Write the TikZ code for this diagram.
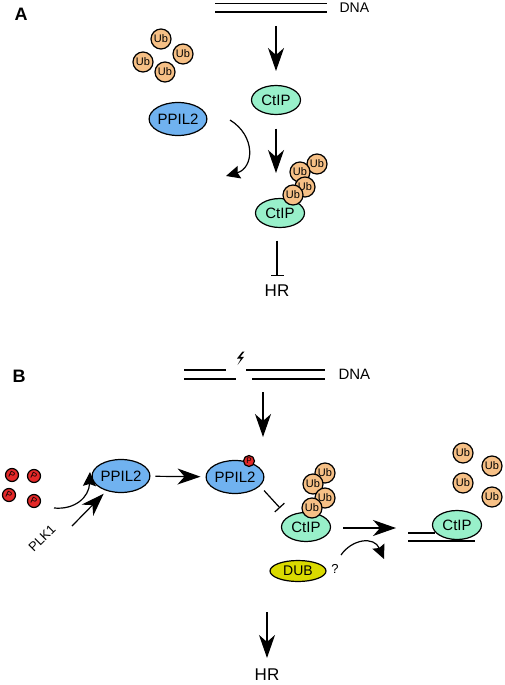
\documentclass[tikz,border=0pt]{standalone}
\usepackage{fontspec}
\setmainfont{Liberation Sans}
\usetikzlibrary{shapes.geometric,arrows.meta}

\definecolor{ctipgreen}{RGB}{152,240,202}
\definecolor{ppilblue}{RGB}{112,178,240}
\definecolor{uborange}{RGB}{246,192,134}
\definecolor{dubyellow}{RGB}{218,218,0}
\definecolor{phosred}{RGB}{228,40,40}

\tikzset{
    protein/.style={
        ellipse, 
        draw=black, 
        line width=1.2pt, 
        inner sep=0pt,
        minimum width=49pt, 
        minimum height=29pt,
        font=\fontsize{15}{15}\selectfont},
    ctip/.style={
        protein, 
        fill=ctipgreen},
    ppil/.style={
        protein, 
        fill=ppilblue, 
        minimum height=33pt},
    dub/.style={
        protein, 
        fill=dubyellow, 
        minimum width=56pt, 
        minimum height=21pt,
        font=\fontsize{14}{14}\selectfont},
    ubiquitin/.style={
        circle, 
        draw=black, 
        fill=uborange, 
        line width=1.2pt,
        minimum size=20pt, 
        inner sep=0pt,
        font=\fontsize{11}{11}\selectfont},
    phospho/.style={
        circle, 
        draw=black, 
        fill=phosred, 
        line width=1.2pt,
        minimum size=13pt, 
        inner sep=0pt,
        font=\fontsize{9}{9}\selectfont},
    activation/.style={
        -{Stealth[length=23pt, width=16pt, inset=7pt]}, 
        line width=1.2pt},
    catalysis/.style={
        -{Stealth[length=14pt, width=13pt, inset=2pt]}, 
        line width=1.2pt},
    inhibition/.style={
        -{Bar[width=13pt, line width=1.2pt]}, 
        line width=1.2pt},
    strand/.style={
        line width=1.2pt},
    panel/.style={
        font=\fontsize{18}{18}\selectfont\bfseries},
    outcome/.style={
        inner sep=0pt,
        font=\fontsize{17}{17}\selectfont}
}

\begin{document}
\begin{tikzpicture}[x=1pt, y=-1pt]
\useasboundingbox (0,0) rectangle (505,685);

% panel A
\node [panel] (panelA) at (21,14) {A};

\draw [strand] (215,3.7) -- (327,3.7) (215,12) -- (327,12);
\coordinate (dnaA) at (276,12);
\node [anchor=west, font=\fontsize{14}{14}\selectfont] (dnaA-text) at (336,7.5) {DNA};

\foreach \x/\y [count=\n] in {161/39, 183/54, 143/62, 165/72}{
    \node [ubiquitin] (ubA-\n) at (\x,\y) {Ub};
}

\node [ctip] (ctipA) at (276,100) {CtIP};
\node [ppil] (ppilA) at (178,119) {PPIL2};
\node [ctip] (ctipA-ub) at (280,213) {CtIP};

\foreach \x/\y [count=\n] in {317/164, 300/172, 305/187, 293/195}{
    \node [ubiquitin] (ubchainA-\n) at (\x,\y) {Ub};
}

\node [outcome] (hrA) at (277,291) {HR};

\coordinate (dnaA-end) at (276,71);
\coordinate (arrowA-end) at (276,173);
\coordinate (bendA-start) at (230,120);
\coordinate (bendA-end) at (226,176);

\draw [activation, shorten <=14pt] (dnaA) -- (dnaA-end);
\draw [activation, shorten <=13.5pt] (ctipA) -- (arrowA-end);
\draw [catalysis] (bendA-start) .. controls (256,136) and (254,168) .. (bendA-end);
\draw [inhibition, shorten <=12.5pt, shorten >=9pt] (ctipA-ub.south -| hrA) -- (hrA.north);

% panel B
\node [panel] (panelB) at (19,376) {B};

\draw [strand] (184,370) -- (226,370) (184,379) -- (236,379)
               (246,370) -- (325,370) (252,379) -- (325,379);
\fill (242.5,351.5) -- (237,358.5) -- (241,358.5) -- (237.5,365) -- (244,356.8) -- (240.3,356.8) -- (244.5,351.5) -- cycle;
\coordinate (dnaB) at (263,375);
\node [anchor=west, font=\fontsize{15}{15}\selectfont] (dnaB-text) at (335,374) {DNA};

\foreach \x/\y [count=\n] in {12/475, 34/476, 9/495, 34/501}{
    \node [phospho] (phos-\n) at (\x,\y) {\rotatebox{-25}{P}};
}

\node [ppil] (ppilB) at (121,476) {PPIL2};
\node [ppil] (ppilB-p) at (235,477) {PPIL2};
\node [phospho, minimum size=11pt, font=\fontsize{8}{8}\selectfont] (phos-ppil) at (249,461) {P};

\node [rotate=45, font=\fontsize{13}{13}\selectfont] (plk1) at (42,538) {PLK1};

\node [ctip] (ctipB) at (306,527) {CtIP};
\foreach \x/\y [count=\n] in {325/473, 313/484, 325/498, 312/508}{
    \node [ubiquitin] (ubchainB-\n) at (\x,\y) {Ub};
}

\draw [strand] (408,533) -- (435,533) (408,541) -- (475,541);
\node [ctip] (ctipB-dna) at (457,525) {CtIP};
\foreach \x/\y [count=\n] in {463/453, 492/466, 463/483, 492/497}{
    \node [ubiquitin] (ubB-\n) at (\x,\y) {Ub};
}

\node [dub] (dub) at (298,571) {DUB};
\node [font=\fontsize{13}{13}\selectfont] (dub-q) at (335,569) {?};

\node [outcome] (hrB) at (267,675) {HR};

\coordinate (arrowB-end) at (263,437);
\coordinate (bendB-start) at (54,508);
\coordinate (bendB-end) at (90,472);
\coordinate (plk1-start) at (72,526);
\coordinate (inhB-end) at (280,508);
\coordinate (releaseB-end) at (396,528);
\coordinate (dubbend-start) at (341,555);
\coordinate (dubbend-end) at (384,559);
\coordinate (hrB-start) at (267,612);

\draw [activation, shorten <=17pt] (dnaB) -- (arrowB-end);
\draw [catalysis] (bendB-start) .. controls (75,510) and (89,497) .. (bendB-end);
\draw [activation, shorten >=4pt] (plk1-start) -- (ppilB);
\draw [activation, shorten <=5pt, shorten >=5pt] (ppilB) -- (ppilB-p);
\draw [inhibition, shorten <=6pt] (ppilB-p.-20) -- (inhB-end);
\draw [activation, shorten <=12pt] (ctipB.east |- releaseB-end) -- (releaseB-end);
\draw [catalysis] (dubbend-start) .. controls (352,539) and (374,536) .. (dubbend-end);
\draw [activation, shorten >=11pt] (hrB-start) -- (hrB);

\end{tikzpicture}
\end{document}
